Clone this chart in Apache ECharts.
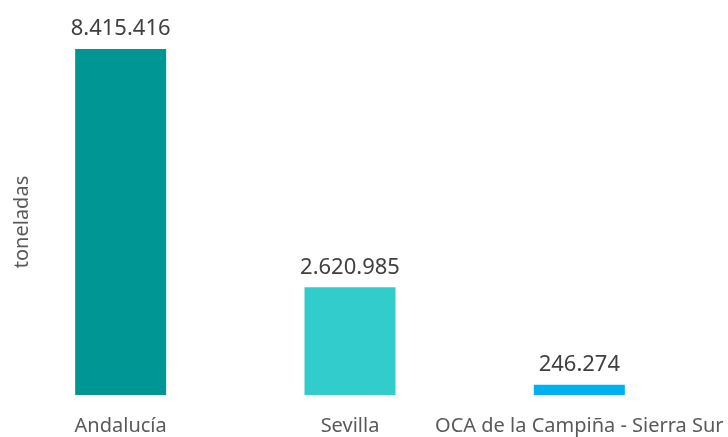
<!DOCTYPE html>
<html>
<head>
<meta charset="utf-8">
<script src="https://cdn.jsdelivr.net/npm/echarts@6/dist/echarts.min.js"></script>
<style>
  html, body { margin: 0; padding: 0; background: #fff; }
  #chart { width: 728px; height: 437px; }
</style>
</head>
<body>
<div id="chart"></div>
<script>
// Producción en toneladas por ámbito territorial
const categories = ['Andalucía', 'Sevilla', 'OCA de la Campiña - Sierra Sur'];
const values = [8415416, 2620985, 246274];
const barColors = ['#009694', '#33CCCC', '#00B0F0'];
const axisTitle = 'toneladas';

const fmt = v => String(v).replace(/\B(?=(\d{3})+(?!\d))/g, '.');

const chart = echarts.init(document.getElementById('chart'));
chart.setOption({
  animation: false,
  textStyle: { fontFamily: 'Noto Sans' },
  grid: { left: 6, right: 34, top: 49, bottom: 42, outerBoundsMode: 'none', containLabel: false },
  xAxis: {
    type: 'category',
    data: categories,
    axisLine: { show: false },
    axisTick: { show: false },
    axisLabel: { color: '#595959', fontSize: 20, margin: 21, interval: 0 }
  },
  yAxis: {
    type: 'value',
    min: 0,
    max: 'dataMax',
    show: true,
    axisLine: { show: false },
    axisTick: { show: false },
    axisLabel: { show: false },
    splitLine: { show: false },
    name: axisTitle,
    nameLocation: 'middle',
    nameRotate: 90,
    nameGap: -26,
    nameTextStyle: { color: '#595959', fontSize: 20 }
  },
  series: [{
    type: 'bar',
    barWidth: 91,
    data: values.map((v, i) => ({ value: v, itemStyle: { color: barColors[i] } })),
    label: {
      show: true,
      position: 'top',
      distance: 9,
      color: '#404040',
      fontSize: 22,
      formatter: p => fmt(p.value)
    }
  }]
});
</script>
</body>
</html>
